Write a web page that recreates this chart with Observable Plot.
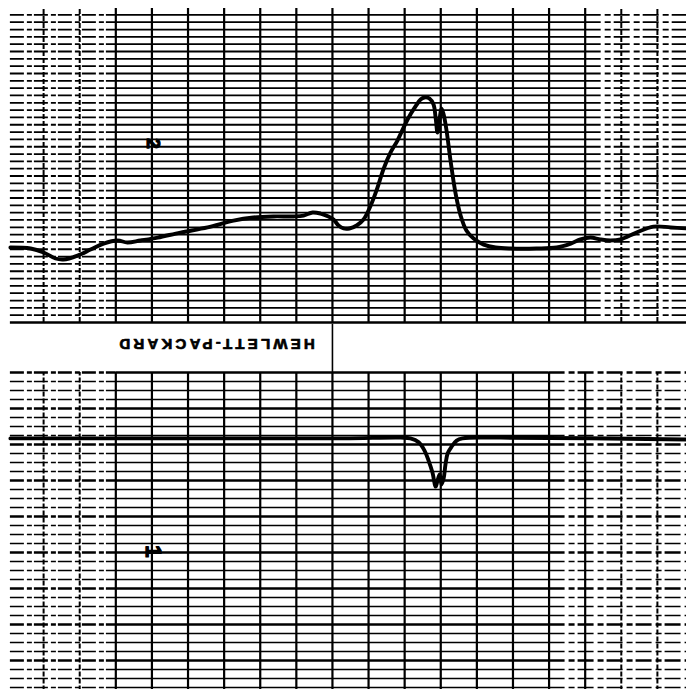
<!DOCTYPE html>
<html>
<head>
<meta charset="utf-8">
<script src="https://cdn.jsdelivr.net/npm/d3@7"></script>
<script src="https://cdn.jsdelivr.net/npm/@observablehq/plot@0.6"></script>
<style>
  html, body { margin: 0; padding: 0; background: #fff; overflow: hidden; }
  #chart svg { display: block; }
</style>
</head>
<body>
<div id="chart"></div>
<script>
// ---- Data ----
// Upper trace: time (s) and value (upper scale units)
const upperT = [0.8, 6.4, 10.0, 13.3, 15.5, 19.4, 23.0, 26.6, 30.5, 33.2, 36.8, 41.6, 47.9, 55.4, 62.6, 68.1, 73.7, 79.2, 82.0, 84.5, 86.7, 88.9, 90.3, 91.7, 93.1, 94.7, 96.7, 98.6, 100.6, 102.2, 104.2, 106.1, 108.0, 110.8, 113.0, 114.4, 115.5, 116.9, 118.0, 118.6, 119.1, 119.7, 120.2, 120.8, 121.6, 122.7, 124.1, 125.5, 127.1, 129.1, 131.9, 135.2, 139.3, 146.5, 152.1, 156.0, 158.7, 161.5, 164.2, 167.0, 169.8, 174.2, 178.9, 183.7, 188.1];
const upperV = [81.2, 80.5, 77.8, 73.7, 73.0, 75.7, 79.8, 83.9, 86.0, 84.6, 86.0, 88.0, 91.4, 94.9, 99.6, 101.7, 102.4, 102.4, 103.0, 105.1, 104.4, 102.4, 100.3, 96.2, 94.2, 94.2, 96.2, 100.3, 109.9, 120.1, 135.1, 146.1, 154.2, 168.6, 177.5, 182.2, 183.6, 182.9, 178.8, 169.3, 159.7, 169.3, 176.1, 172.0, 161.1, 140.6, 118.1, 103.0, 92.8, 87.3, 83.2, 81.2, 80.5, 80.5, 81.2, 83.9, 86.7, 88.0, 86.7, 86.0, 86.7, 91.4, 95.5, 94.9, 94.2];

// Lower trace: time (s) and value (lower scale units)
const lowerT = [0.8, 53.5, 93.1, 108.9, 111.6, 113.9, 115.5, 116.6, 117.7, 118.6, 119.1, 119.7, 120.2, 120.8, 121.3, 121.9, 123.0, 124.4, 126.0, 136.6, 188.1];
const lowerV = [71.7, 71.7, 71.7, 71.9, 71.7, 70.6, 68.3, 65.6, 62.2, 58.3, 60.0, 61.7, 58.9, 60.6, 64.4, 67.5, 69.4, 71.1, 71.7, 71.9, 71.4];

// Paper grid
const timeLines = [10, 20, 30, 40, 50, 60, 70, 80, 90, 100, 110, 120, 130, 140, 150, 160, 170, 180];
const fadedTimeLines = [10, 20, 170, 180];
const upperGridLines = d3.range(35, 240.1, 5);
const lowerMajorLines = [10, 20, 30, 40, 50, 60, 70, 80, 90];
const lowerMinorLines = d3.range(2.5, 90, 2.5).filter(v => v % 10 !== 0);

// Labels printed on the paper
const brandLabel = ["HEWLETT-PACKARD"];
const upperPageLabel = ["2"];
const lowerPageLabel = ["1"];

const upperData = upperT.map((t, i) => ({t, v: upperV[i]}));
const lowerData = lowerT.map((t, i) => ({t, v: lowerV[i]}));
const solidTimeLines = timeLines.filter(t => !fadedTimeLines.includes(t));

const X = {domain: [0, 190], range: [7, 693], axis: null};
const font = "Liberation Sans, Arial, Helvetica, sans-serif";

function hRules(values, sw, leftEnd, rightStart) {
  return [
    Plot.ruleY(values, {x1: 0.8, x2: leftEnd, strokeWidth: sw, stroke: "#000", strokeDasharray: "14,3,5,2"}),
    Plot.ruleY(values, {x1: leftEnd, x2: rightStart, strokeWidth: sw, stroke: "#000"}),
    Plot.ruleY(values, {x1: rightStart, x2: 190, strokeWidth: sw, stroke: "#000", strokeDasharray: "16,4,6,3"})
  ];
}

const upperChart = Plot.plot({
  width: 686,
  height: 324,
  x: X,
  y: {domain: [30, 240], range: [322, 14.4], axis: null},
  style: {overflow: "visible", background: "#fff", fontFamily: font},
  marks: [
    ...hRules(upperGridLines, 1.8, 30, 160),
    Plot.ruleY([30], {x1: 0.8, x2: 190, strokeWidth: 2.6, stroke: "#000"}),
    Plot.ruleX(solidTimeLines, {y1: 30, y2: 244.4, strokeWidth: 2.2, stroke: "#000"}),
    Plot.ruleX(fadedTimeLines, {y1: 30, y2: 244.4, strokeWidth: 2, stroke: "#000", strokeDasharray: "5,2"}),
    Plot.line(upperData, {x: "t", y: "v", stroke: "#000", strokeWidth: 3.9, curve: "catmull-rom", strokeLinejoin: "round"}),
    Plot.text(upperPageLabel, {x: 40.4, y: 152.2, text: d => d, rotate: 90, fontSize: 19, fontWeight: "bold", fill: "#000", stroke: "#000", strokeWidth: 1.2})
  ]
});

const lowerChart = Plot.plot({
  width: 686,
  height: 365,
  x: X,
  y: {domain: [0, 90], range: [372, 48], axis: null},
  style: {overflow: "visible", background: "#fff", fontFamily: font},
  marks: [
    ...hRules(lowerMinorLines, 1.7, 30, 150),
    ...hRules(lowerMajorLines, 2.7, 30, 150),
    Plot.ruleX(solidTimeLines, {y1: 1.5, y2: 90, strokeWidth: 2.2, stroke: "#000"}),
    Plot.ruleX(fadedTimeLines, {y1: 1.5, y2: 90, strokeWidth: 2, stroke: "#000", strokeDasharray: "5,2"}),
    Plot.ruleX([90], {y1: 90, y2: 103.4, strokeWidth: 1.6, stroke: "#000"}),
    Plot.line(lowerData, {x: "t", y: "v", stroke: "#000", strokeWidth: 3.9, curve: "catmull-rom", strokeLinejoin: "round"}),
    Plot.text(brandLabel, {x: 57.6, y: 98.1, text: d => d, rotate: 180, fontSize: 15, fontWeight: "bold", fill: "#000", stroke: "#000", strokeWidth: 0.7}),
    Plot.text(lowerPageLabel, {x: 40.4, y: 40.3, text: d => d, rotate: 90, fontSize: 22, fontWeight: "bold", fill: "#000", stroke: "#000", strokeWidth: 1.4})
  ]
});

function styleText(svg) {
  for (const el of svg.querySelectorAll("text")) {
    el.style.fontFamily = font;
    el.style.fontWeight = "bold";
    if (el.textContent === "HEWLETT-PACKARD") {
      el.style.fontSize = "15px";
      el.style.letterSpacing = "3.2px";
    } else if (el.textContent === "1") {
      el.style.fontSize = "22px";
    } else {
      el.style.fontSize = "19px";
    }
  }
}
styleText(upperChart);
styleText(lowerChart);

const chart = document.getElementById("chart");
chart.appendChild(upperChart);
chart.appendChild(lowerChart);
</script>
</body>
</html>
